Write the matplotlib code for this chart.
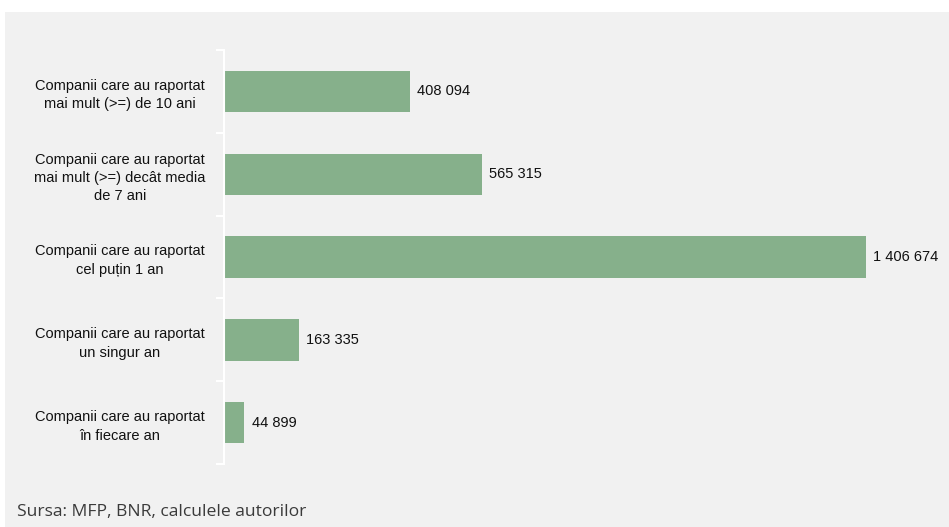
import matplotlib
matplotlib.use("Agg")
import matplotlib.pyplot as plt

categories = [
    "Companii care au raportat\nmai mult (>=) de 10 ani",
    "Companii care au raportat\nmai mult (>=) decât media\nde 7 ani",
    "Companii care au raportat\ncel puțin 1 an",
    "Companii care au raportat\nun singur an",
    "Companii care au raportat\nîn fiecare an",
]
values = [408094, 565315, 1406674, 163335, 44899]
value_labels = ["408 094", "565 315", "1 406 674", "163 335", "44 899"]
source_text = "Sursa: MFP, BNR, calculele autorilor"

LABEL_FONT = "Liberation Sans"
BG = "#f1f1f1"
BAR = "#86b08b"

fig = plt.figure(figsize=(9.49, 5.27), dpi=100)
fig.patch.set_facecolor("white")
W, H = 949, 527

# grey panel behind the chart
panel = plt.Rectangle((5 / W, 0), 1 - 5 / W, 1 - 12 / H, transform=fig.transFigure,
                      facecolor=BG, edgecolor="none", zorder=-10)
fig.patches.append(panel)

ax = fig.add_axes([224 / W, 1 - 464 / H, (866 - 224) / W, (464 - 50) / H])
ax.set_facecolor("none")
ax.set_zorder(5)

n = len(categories)
ypos = list(range(n))
ax.barh(ypos, values, height=0.5, color=BAR, zorder=2)
ax.set_ylim(n - 0.5, -0.5)
ax.set_xlim(0, max(values))

for y, v, lab in zip(ypos, values, value_labels):
    ax.text(v + max(values) * 0.011, y, lab, va="center", ha="left",
            fontsize=10.5, family=LABEL_FONT, color="#111111")

ax.set_yticks([i - 0.5 for i in range(n + 1)])
ax.set_yticklabels([])
ax.set_yticks(ypos, minor=True)
ax.set_yticklabels(categories, minor=True, family=LABEL_FONT, fontsize=10.5,
                   color="#111111", ha="center", linespacing=1.4)
ax.tick_params(axis="y", which="minor", length=0, pad=75)
ax.tick_params(axis="y", which="major", length=6, color="white", width=1.5)
ax.set_xticks([])

for s in ["top", "right", "bottom"]:
    ax.spines[s].set_visible(False)
ax.spines["left"].set_color("white")
ax.spines["left"].set_linewidth(1.5)

fig.text(17 / W, 1 - 512 / H, source_text, fontsize=12.6, family="Open Sans",
         color="#3a3a3a", va="center", ha="left")

fig.savefig("out.png", dpi=100, facecolor=fig.get_facecolor())
